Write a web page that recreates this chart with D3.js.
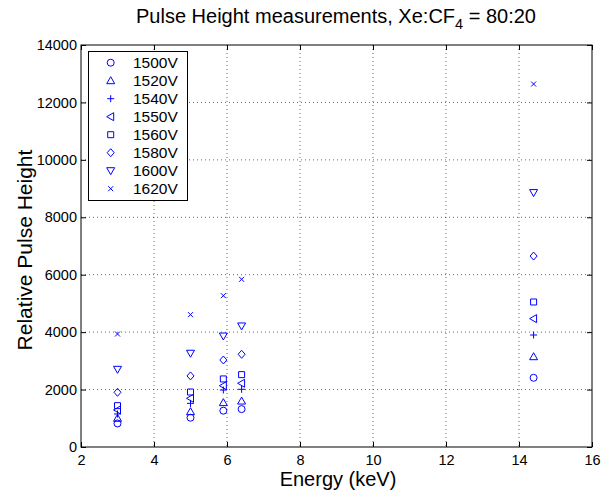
<!DOCTYPE html>
<html><head><meta charset="utf-8">
<script src="https://d3js.org/d3.v7.min.js"></script>
<style>body{margin:0;background:#fff;}svg{display:block;font-family:"Liberation Sans",Arial,sans-serif;}</style>
</head><body>
<script>
const energies = [3.0, 5.0, 5.9, 6.4, 14.4];
const seriesNames = ["1500V","1520V","1540V","1550V","1560V","1580V","1600V","1620V"];
const markers = ["circle","triangleUp","plus","triangleLeft","square","diamond","triangleDown","cross"];
const v1500 = [820, 1020, 1265, 1320, 2410];
const v1520 = [1000, 1230, 1545, 1600, 3145];
const v1540 = [1150, 1520, 1985, 2010, 3900];
const v1550 = [1290, 1695, 2135, 2220, 4470];
const v1560 = [1440, 1915, 2370, 2520, 5050];
const v1580 = [1905, 2475, 3030, 3230, 6650];
const v1600 = [2705, 3265, 3865, 4215, 8860];
const v1620 = [3935, 4610, 5270, 5840, 12640];
const allValues = [v1500,v1520,v1540,v1550,v1560,v1580,v1600,v1620];
const xTicks = [2,4,6,8,10,12,14,16];
const yTicks = [0,2000,4000,6000,8000,10000,12000,14000];

const W=612,H=495, L=81, R=592, T=45, B=447;
const svg=d3.select("body").append("svg").attr("width",W).attr("height",H);
const x=d3.scaleLinear().domain([2,16]).range([L,R]);
const y=d3.scaleLinear().domain([0,14000]).range([B,T]);
const blue="#0000ff";

// grid
const g=svg.append("g");
g.selectAll(".gx").data(xTicks.slice(1,-1)).enter().append("line")
 .attr("x1",d=>x(d)).attr("x2",d=>x(d)).attr("y1",T).attr("y2",B)
 .attr("stroke","#000").attr("stroke-width",0.6).attr("stroke-dasharray","1,3");
g.selectAll(".gy").data(yTicks.slice(1,-1)).enter().append("line")
 .attr("y1",d=>y(d)).attr("y2",d=>y(d)).attr("x1",L).attr("x2",R)
 .attr("stroke","#000").attr("stroke-width",0.6).attr("stroke-dasharray","1,3");

// axes
const ax=svg.append("g").attr("transform",`translate(0,${B})`)
 .call(d3.axisBottom(x).tickValues(xTicks).tickSizeInner(-5).tickSizeOuter(0).tickPadding(8));
const ay=svg.append("g").attr("transform",`translate(${L},0)`)
 .call(d3.axisLeft(y).tickValues(yTicks).tickSizeInner(-5).tickSizeOuter(0).tickPadding(4).tickFormat(d3.format("d")));
const axT=svg.append("g").attr("transform",`translate(0,${T})`)
 .call(d3.axisTop(x).tickValues(xTicks).tickSizeInner(-5).tickSizeOuter(0).tickFormat(""));
const ayR=svg.append("g").attr("transform",`translate(${R},0)`)
 .call(d3.axisRight(y).tickValues(yTicks).tickSizeInner(-5).tickSizeOuter(0).tickFormat(""));
[ax,ay,axT,ayR].forEach(a=>{a.select(".domain").remove();a.selectAll("line").attr("stroke","#000");
 a.selectAll("text").attr("font-size",14.5).attr("fill","#000").attr("font-family","Liberation Sans, Arial, sans-serif");});
ax.selectAll("text").attr("dy","0.71em").attr("y",8);
svg.append("rect").attr("x",L).attr("y",T).attr("width",R-L).attr("height",B-T)
 .attr("fill","none").attr("stroke","#000").attr("stroke-width",1);

function drawMarker(sel,type,cx,cy){
  const h=3.5;
  let p;
  if(type==="circle"){ sel.append("circle").attr("cx",cx).attr("cy",cy).attr("r",h).attr("fill","none").attr("stroke",blue); return; }
  if(type==="triangleUp") p=`M${cx},${cy-h-0.5}L${cx+h+0.5},${cy+h-0.5}L${cx-h-0.5},${cy+h-0.5}Z`;
  if(type==="triangleDown") p=`M${cx},${cy+h+0.5}L${cx+h+0.5},${cy-h+0.5}L${cx-h-0.5},${cy-h+0.5}Z`;
  if(type==="triangleLeft") p=`M${cx-h-0.5},${cy}L${cx+h-0.5},${cy-h-0.5}L${cx+h-0.5},${cy+h+0.5}Z`;
  if(type==="plus") p=`M${cx-h},${cy}L${cx+h},${cy}M${cx},${cy-h}L${cx},${cy+h}`;
  if(type==="square") p=`M${cx-3},${cy-3}h6v6h-6Z`;
  if(type==="diamond") p=`M${cx},${cy-h-0.5}L${cx+h},${cy}L${cx},${cy+h+0.5}L${cx-h},${cy}Z`;
  if(type==="cross") p=`M${cx-2.5},${cy-2.5}L${cx+2.5},${cy+2.5}M${cx-2.5},${cy+2.5}L${cx+2.5},${cy-2.5}`;
  sel.append("path").attr("d",p).attr("fill","none").attr("stroke",blue).attr("stroke-width",1);
}

const pts=svg.append("g");
allValues.forEach((vals,si)=>{
  vals.forEach((v,i)=>drawMarker(pts,markers[si],x(energies[i]),y(v)));
});

// legend
const lg=svg.append("g");
lg.append("rect").attr("x",88.5).attr("y",51.5).attr("width",99).attr("height",149)
 .attr("fill","#fff").attr("stroke","#000").attr("stroke-width",1);
seriesNames.forEach((n,i)=>{
  const cy=62.7+i*18;
  drawMarker(lg,markers[i],110.7,cy);
  lg.append("text").attr("x",133).attr("y",cy+5.4).attr("font-size",15.5).attr("fill","#000").text(n);
});

// titles
const title=svg.append("text").attr("x",336).attr("y",23).attr("text-anchor","middle").attr("font-size",20).attr("fill","#000");
title.append("tspan").text("Pulse Height measurements, Xe:CF");
title.append("tspan").attr("dy",6).attr("font-size",14.5).text("4");
title.append("tspan").attr("dy",-6).text(" = 80:20");
svg.append("text").attr("x",338).attr("y",486).attr("text-anchor","middle").attr("font-size",20).attr("fill","#000").text("Energy (keV)");
svg.append("text").attr("transform","translate(32,250) rotate(-90)").attr("text-anchor","middle").attr("font-size",21).attr("fill","#000").text("Relative Pulse Height");
</script>
</body></html>
